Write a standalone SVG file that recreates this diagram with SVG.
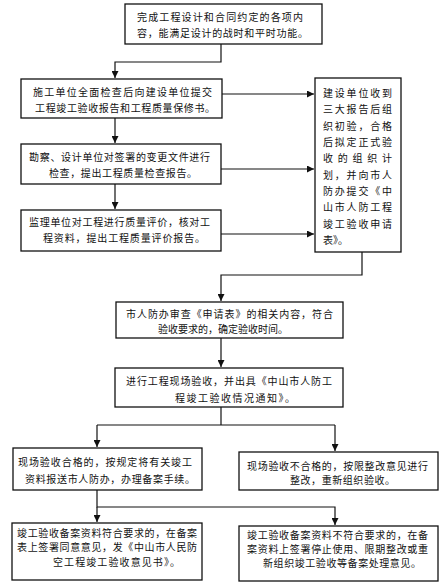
<svg xmlns="http://www.w3.org/2000/svg" width="447" height="585" viewBox="0 0 447 585">
<style>
.box{fill:#fff;stroke:#111;stroke-width:1.3}
.c{fill:none;stroke:#111;stroke-width:1.2}
text{font-family:"Noto Sans CJK SC","Noto Sans CJK JP",sans-serif;font-size:10px;fill:#111}
</style>
<defs>
<marker id="ah" markerUnits="userSpaceOnUse" markerWidth="8" markerHeight="7" refX="7" refY="3.5" orient="auto">
<path d="M0,0 L7,3.5 L0,7 z" fill="#111"/>
</marker>
</defs>
<rect width="447" height="585" fill="#fff"/>
<g id="connectors">
<path class="c" d="M221,44 V62 H115 V78" marker-end="url(#ah)"/>
<path class="c" d="M115,118 V143" marker-end="url(#ah)"/>
<path class="c" d="M115,184 V209" marker-end="url(#ah)"/>
<path class="c" d="M222,94 H314" marker-end="url(#ah)"/>
<path class="c" d="M221,169 H314" marker-end="url(#ah)"/>
<path class="c" d="M221,234 H314" marker-end="url(#ah)"/>
<path class="c" d="M362,252 V275 H221 V301" marker-end="url(#ah)"/>
<path class="c" d="M221,338 V367" marker-end="url(#ah)"/>
<path class="c" d="M221,407 V425"/>
<path class="c" d="M97,425 H335"/>
<path class="c" d="M97,425 V447" marker-end="url(#ah)"/>
<path class="c" d="M335,425 V451" marker-end="url(#ah)"/>
<path class="c" d="M97,490 V507 H335 V525" marker-end="url(#ah)"/>
<path class="c" d="M97,507 V522" marker-end="url(#ah)"/>
</g>
<g id="n1">
<rect class="box" x="125" y="4" width="197" height="40"/>
<text x="137" y="21" textLength="166" lengthAdjust="spacing">完成工程设计和合同约定的各项内</text>
<text x="137" y="37" textLength="171" lengthAdjust="spacing">容，能满足设计的战时和平时功能。</text>
</g>
<g id="n2">
<rect class="box" x="21" y="79" width="201" height="39"/>
<text x="33" y="96" textLength="179" lengthAdjust="spacing">施工单位全面检查后向建设单位提交</text>
<text x="35" y="112" textLength="180" lengthAdjust="spacing">工程竣工验收报告和工程质量保修书。</text>
</g>
<g id="n3">
<rect class="box" x="21" y="144" width="200" height="40"/>
<text x="29" y="161" textLength="181" lengthAdjust="spacing">勘察、设计单位对签署的变更文件进行</text>
<text x="49" y="177" textLength="148" lengthAdjust="spacing">检查，提出工程质量检查报告。</text>
</g>
<g id="n4">
<rect class="box" x="21" y="210" width="200" height="41"/>
<text x="29" y="226" textLength="181" lengthAdjust="spacing">监理单位对工程进行质量评价，核对工</text>
<text x="43" y="242" textLength="162" lengthAdjust="spacing">程资料，提出工程质量评价报告。</text>
</g>
<g id="n5">
<rect class="box" x="315" y="78" width="86" height="174"/>
<text x="323" y="97" textLength="69" lengthAdjust="spacing">建设单位收到</text>
<text x="323" y="113" textLength="69" lengthAdjust="spacing">三大报告后组</text>
<text x="323" y="130" textLength="69" lengthAdjust="spacing">织初验，合格</text>
<text x="323" y="146" textLength="69" lengthAdjust="spacing">后拟定正式验</text>
<text x="323" y="162" textLength="69" lengthAdjust="spacing">收的组织计</text>
<text x="323" y="179" textLength="69" lengthAdjust="spacing">划，并向市人</text>
<text x="323" y="195" textLength="69" lengthAdjust="spacing">防办提交《中</text>
<text x="323" y="211" textLength="69" lengthAdjust="spacing">山市人防工程</text>
<text x="323" y="228" textLength="69" lengthAdjust="spacing">竣工验收申请</text>
<text x="323" y="244">表》。</text>
</g>
<g id="n6">
<rect class="box" x="116" y="302" width="227" height="36"/>
<text x="126" y="318" textLength="207" lengthAdjust="spacing">市人防办审查《申请表》的相关内容，符合</text>
<text x="158" y="333" textLength="130" lengthAdjust="spacing">验收要求的，确定验收时间。</text>
</g>
<g id="n7">
<rect class="box" x="115" y="368" width="228" height="39"/>
<text x="126" y="385" textLength="206" lengthAdjust="spacing">进行工程现场验收，并出具《中山市人防工</text>
<text x="175" y="402" textLength="120" lengthAdjust="spacing">程竣工验收情况通知》。</text>
</g>
<g id="n8">
<rect class="box" x="13" y="448" width="189" height="42"/>
<text x="18" y="466" textLength="174" lengthAdjust="spacing">现场验收合格的，按规定将有关竣工</text>
<text x="25" y="483" textLength="170" lengthAdjust="spacing">资料报送市人防办，办理备案手续。</text>
</g>
<g id="n9">
<rect class="box" x="239" y="452" width="199" height="38"/>
<text x="247" y="470" textLength="181" lengthAdjust="spacing">现场验收不合格的，按限整改意见进行</text>
<text x="290" y="484" textLength="105" lengthAdjust="spacing">整改，重新组织验收。</text>
</g>
<g id="n10">
<rect class="box" x="12" y="523" width="190" height="57"/>
<text x="17" y="537" textLength="180" lengthAdjust="spacing">竣工验收备案资料符合要求的，在备案</text>
<text x="17" y="551" textLength="180" lengthAdjust="spacing">表上签署同意意见，发《中山市人民防</text>
<text x="53" y="566" textLength="127" lengthAdjust="spacing">空工程竣工验收意见书》。</text>
</g>
<g id="n11">
<rect class="box" x="239" y="526" width="199" height="55"/>
<text x="247" y="539" textLength="181" lengthAdjust="spacing">竣工验收备案资料不符合要求的，在备</text>
<text x="247" y="553" textLength="181" lengthAdjust="spacing">案资料上签署停止使用、限期整改或重</text>
<text x="263" y="567" textLength="158" lengthAdjust="spacing">新组织竣工验收等备案处理意见。</text>
</g>
</svg>
